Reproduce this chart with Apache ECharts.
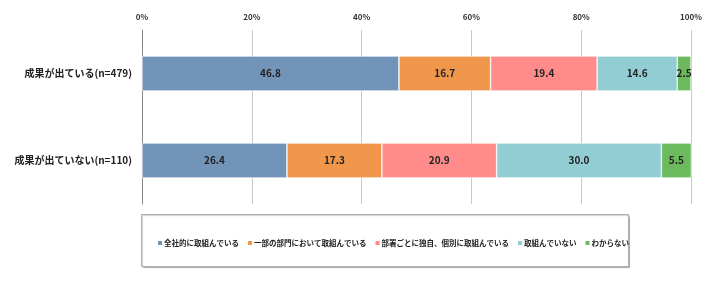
<!DOCTYPE html>
<html><head><meta charset="utf-8">
<script src="https://cdn.jsdelivr.net/npm/echarts@6/dist/echarts.min.js"></script>
<style>html,body{margin:0;padding:0;background:#fff}#c{width:716px;height:281px}</style>
</head><body><div id="c"></div>
<script>
const categories = ['成果が出ている(n=479)', '成果が出ていない(n=110)'];
const seriesNames = ['全社的に取組んでいる', '一部の部門において取組んでいる', '部署ごとに独自、個別に取組んでいる', '取組んでいない', 'わからない'];
const s1 = [46.8, 26.4];
const s2 = [16.7, 17.3];
const s3 = [19.4, 20.9];
const s4 = [14.6, 30.0];
const s5 = [2.5, 5.5];
const tickLabels = ['0%', '20%', '40%', '60%', '80%', '100%'];
const colors = ['#7394b9', '#f0974b', '#ff8b8b', '#93cdd4', '#6dba5e'];
const values = [s1, s2, s3, s4, s5];
const font = '"Noto Sans CJK JP", sans-serif';
const chart = echarts.init(document.getElementById('c'));
chart.setOption({
  animation: false,
  grid: {left: 142, right: 25, top: 30, height: 174},
  xAxis: {
    type: 'value', position: 'top', min: 0, max: 100, interval: 20,
    axisLabel: {formatter: v => tickLabels[v / 20], fontSize: 8, fontWeight: 'bold', color: '#333', fontFamily: font, margin: 9},
    axisLine: {show: false}, axisTick: {show: false},
    splitLine: {lineStyle: {color: '#c8c8c8', width: 1}}
  },
  yAxis: {
    type: 'category', data: categories, inverse: true,
    axisLine: {lineStyle: {color: '#888'}}, axisTick: {show: false},
    axisLabel: {fontSize: 10, fontWeight: 'bold', color: '#222', fontFamily: font, margin: 10}
  },
  legend: {
    left: 151, top: 234, width: 560, itemWidth: 6, itemHeight: 6, itemGap: 7, icon: 'rect',
    textStyle: {fontSize: 7.5, fontWeight: 'bold', color: '#222', fontFamily: font, padding: [0,0,0,-4]},
    data: seriesNames
  },
  graphic: [{
    type: 'rect', left: 141, top: 214, shape: {width: 487, height: 52},
    style: {fill: '#fff', stroke: '#b0b0b0', lineWidth: 1, shadowColor: 'rgba(0,0,0,0.2)', shadowBlur: 1, shadowOffsetX: 1, shadowOffsetY: 1}, z: -1
  }],
  series: seriesNames.map((n, i) => ({
    name: n, type: 'bar', stack: 'a', barWidth: 35,
    data: values[i],
    itemStyle: {color: colors[i], borderColor: '#fff', borderWidth: 0.6},
    label: {show: true, position: 'inside', fontSize: 10, fontWeight: 'bold', color: '#222', fontFamily: font, formatter: p => p.value.toFixed(1)}
  }))
});
</script></body></html>
